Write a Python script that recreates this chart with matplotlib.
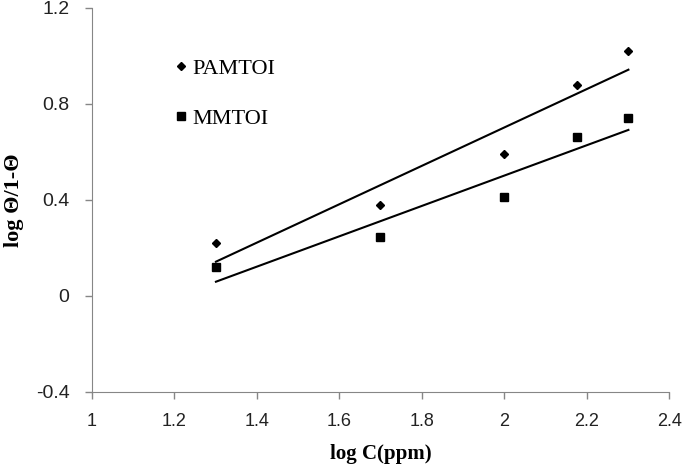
import numpy as np
import matplotlib
matplotlib.use("Agg")
from matplotlib import pyplot as plt

# log C values and log(theta/1-theta)
log_c = [1.301, 1.699, 2.0, 2.176, 2.301]
pamtoi = [0.22, 0.38, 0.59, 0.88, 1.02]
mmtoi = [0.12, 0.245, 0.41, 0.66, 0.74]

x_ticks = [1, 1.2, 1.4, 1.6, 1.8, 2, 2.2, 2.4]
x_tick_labels = ['1', '1.2', '1.4', '1.6', '1.8', '2', '2.2', '2.4']
y_ticks = [-0.4, 0, 0.4, 0.8, 1.2]
y_tick_labels = ['-0.4', '0', '0.4', '0.8', '1.2']

fig = plt.figure(figsize=(6.85, 4.67), dpi=100)
ax = fig.add_axes([0.134, 0.161, 0.843, 0.822])

# scatter points
ax.plot(log_c, pamtoi, linestyle='none', marker='D', markersize=4.5,
        color='black', label='PAMTOI')
ax.plot(log_c, mmtoi, linestyle='none', marker='s', markersize=6,
        color='black', label='MMTOI')

# linear trendlines
x = np.array(log_c)
for series in (pamtoi, mmtoi):
    slope, intercept = np.polyfit(x, series, 1)
    ax.plot([x[0], x[-1]], [slope * x[0] + intercept, slope * x[-1] + intercept],
            color='black', linewidth=1.5)

ax.set_xlim(1, 2.4)
ax.set_ylim(-0.4, 1.2)
ax.set_xticks(x_ticks)
ax.set_xticklabels(x_tick_labels, family='Liberation Sans', fontsize=13, color='#222222')
ax.set_yticks(y_ticks)
ax.set_yticklabels(y_tick_labels, family='Liberation Sans', fontsize=14, color='#222222')

for side in ('top', 'right'):
    ax.spines[side].set_visible(False)
for side in ('left', 'bottom'):
    ax.spines[side].set_color('#868686')
ax.tick_params(axis='both', direction='out', length=5, color='#868686', width=1)
ax.tick_params(axis='x', pad=10)
ax.tick_params(axis='y', pad=11)

ax.set_xlabel('log C(ppm)', family='Liberation Serif', fontweight='bold', fontsize=15)
ax.set_ylabel('log \u0398/1-\u0398', family='Liberation Serif', fontweight='bold', fontsize=16)
ax.xaxis.set_label_coords(0.5, -0.135)
ax.yaxis.set_label_coords(-0.118, 0.5)

ax.legend(loc='upper left', bbox_to_anchor=(0.1, 0.92), frameon=False,
          handletextpad=0.05, handlelength=1.0, labelspacing=1.3,
          prop={'family': 'Liberation Serif', 'size': 16})

plt.savefig('out.png', dpi=100)
